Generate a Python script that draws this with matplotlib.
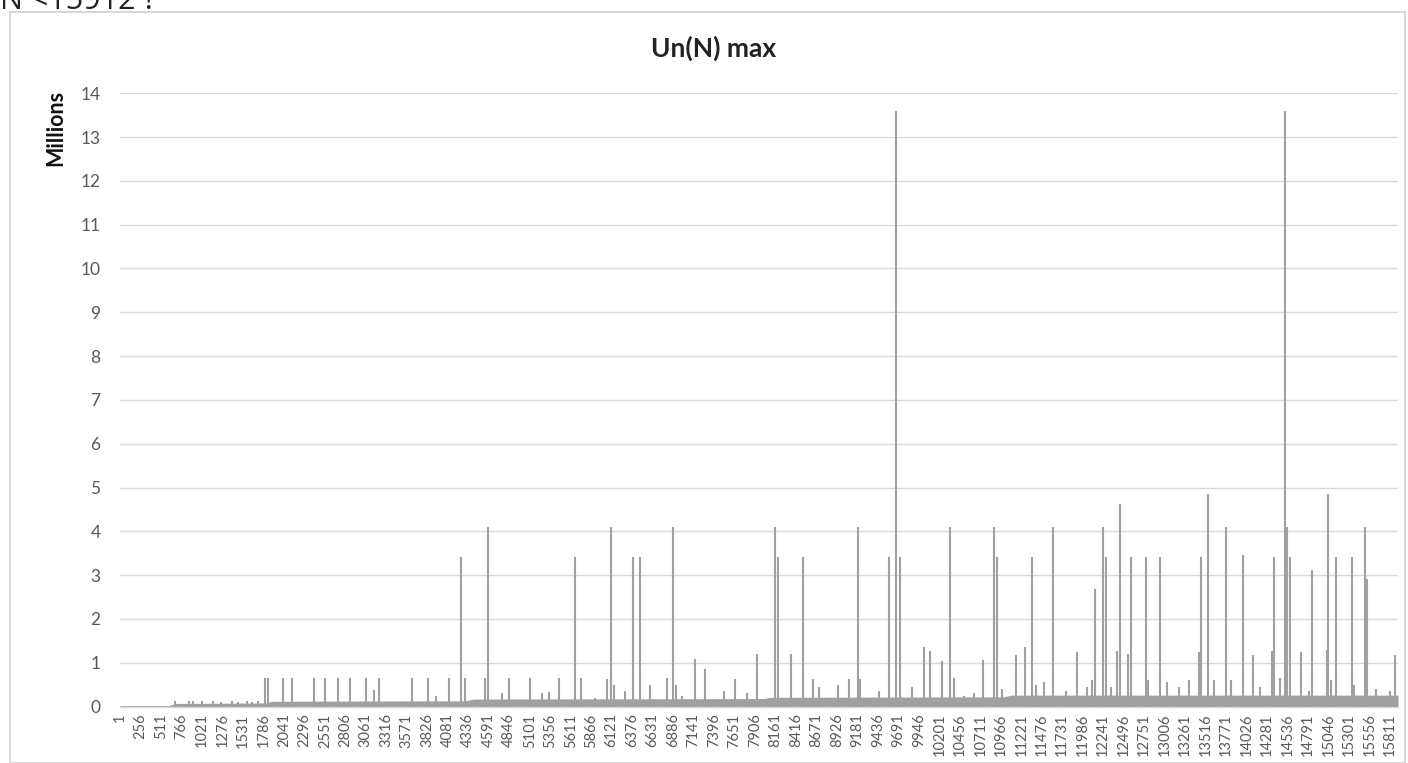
import matplotlib
matplotlib.use("Agg")
import matplotlib.pyplot as plt
from matplotlib.patches import Rectangle

# ---------------- data (values in millions) ----------------
n_max = 15911
tick_labels = list(range(1, 15812, 255))

# visible spikes: position N and height (millions)
spike_n = [686, 861, 914, 1026, 1163, 1259, 1392, 1475, 1579, 1641, 1724,
           1807, 1848, 2035, 2140, 2418, 2555, 2720, 2866, 3065, 3169, 3231,
           3635, 3829, 3937, 4091, 4249, 4299, 4548, 4577, 4756, 4847, 5108,
           5254, 5336, 5461, 5669, 5744, 5918, 6064, 6114, 6146, 6292, 6383,
           6470, 6595, 6811, 6881, 6924, 6998, 7164, 7280, 7525, 7653, 7808,
           7932, 8160, 8189, 8360, 8500, 8625, 8700, 8937, 9074, 9191, 9219,
           9447, 9572, 9664, 9709, 9863, 10008, 10091, 10237, 10340, 10382,
           10506, 10631, 10743, 10880, 10922, 10976, 11150, 11266, 11349,
           11399, 11503, 11620, 11773, 11919, 12043, 12106, 12134, 12243,
           12280, 12334, 12417, 12449, 12554, 12586, 12769, 12795, 12948,
           13040, 13184, 13309, 13434, 13455, 13551, 13621, 13775, 13828,
           13982, 14106, 14190, 14339, 14368, 14439, 14505, 14526, 14567,
           14700, 14804, 14846, 15024, 15045, 15074, 15136, 15336, 15365,
           15501, 15523, 15635, 15813, 15871]
spike_val = [0.12, 0.12, 0.13, 0.12, 0.12, 0.11, 0.12, 0.11, 0.12, 0.11, 0.12,
             0.66, 0.66, 0.66, 0.66, 0.66, 0.66, 0.66, 0.66, 0.66, 0.38, 0.66,
             0.66, 0.66, 0.25, 0.66, 3.42, 0.66, 0.66, 4.10, 0.30, 0.66, 0.66,
             0.30, 0.33, 0.66, 3.42, 0.66, 0.20, 0.62, 4.10, 0.50, 0.35, 3.42,
             3.42, 0.50, 0.66, 4.10, 0.50, 0.25, 1.08, 0.85, 0.35, 0.62, 0.30,
             1.20, 4.10, 3.42, 1.20, 3.42, 0.62, 0.45, 0.50, 0.62, 4.10, 0.62,
             0.35, 3.42, 13.60, 3.42, 0.45, 1.35, 1.26, 1.05, 4.10, 0.66,
             0.25, 0.30, 1.06, 4.10, 3.42, 0.40, 1.18, 1.35, 3.42,
             0.50, 0.55, 4.10, 0.35, 1.25, 0.45, 0.60, 2.68, 4.10,
             3.42, 0.45, 1.27, 4.62, 1.20, 3.42, 3.42, 0.60, 3.42,
             0.55, 0.45, 0.60, 1.25, 3.42, 4.85, 0.60, 4.10, 0.60,
             3.45, 1.18, 0.45, 1.27, 3.42, 0.65, 13.60, 4.10, 3.42,
             1.25, 0.35, 3.12, 1.30, 4.85, 0.60, 3.42, 3.42, 0.50,
             4.10, 2.92, 0.40, 0.35, 1.18]

# dense low-level band (upper edge, millions) read at breakpoints
band_n = [1, 600, 700, 1800, 1900, 4300, 4400, 8000, 8100, 11000, 11100, 15911]
band_top = [0.02, 0.02, 0.07, 0.08, 0.12, 0.13, 0.17, 0.18, 0.21, 0.22, 0.26, 0.26]

# ---------------- figure ----------------
W, H = 1408, 763
fig = plt.figure(figsize=(W / 100, H / 100), dpi=100)
fig.patch.set_facecolor("white")

# outer chart border
fig.patches.append(Rectangle((10 / W, 0), (1405 - 10) / W, 1 - 12 / H,
                             transform=fig.transFigure, fill=False,
                             edgecolor="#d0d0d0", linewidth=1.2))

# partly visible text from the page above the chart
fig.text(0.0, 1 - 9 / H, "N <15912 ?", fontsize=22, family="Open Sans",
         color="#222222", ha="left", va="baseline")

ax = fig.add_axes([120 / W, 1 - 706.5 / H, (1398 - 120) / W, (706.5 - 93.3) / H])
ax.set_facecolor("white")

gray = "#a0a0a0"
ax.fill_between(band_n, 0, band_top, color=gray, linewidth=0, zorder=2)
ax.vlines(spike_n, 0, spike_val, color=gray, linewidth=1.5, zorder=3)

ax.set_xlim(0.5, n_max + 0.5)
ax.set_ylim(0, 14)
ax.set_yticks(range(0, 15))
ax.set_yticklabels([str(v) for v in range(0, 15)])
ax.set_xticks(tick_labels)
ax.set_xticklabels([str(v) for v in tick_labels], rotation=90)

ax.grid(axis="y", color="#d9d9d9", linewidth=1.0, zorder=0)
ax.set_axisbelow(True)
for side in ["top", "right", "left"]:
    ax.spines[side].set_visible(False)
ax.spines["bottom"].set_color("#d9d9d9")
ax.spines["bottom"].set_linewidth(1.0)
ax.tick_params(axis="both", length=0, colors="#595959")
ax.tick_params(axis="y", labelsize=12.5, pad=14)
ax.tick_params(axis="x", labelsize=10.5, pad=5)
for lbl in ax.get_yticklabels() + ax.get_xticklabels():
    lbl.set_family("Lato")

fig.text(56 / W, 1 - 128 / H, "Millions", rotation=90, fontsize=15.5,
         fontweight="bold", family="Lato", color="#111111",
         ha="center", va="center")
fig.text(714 / W, 1 - 48 / H, "Un(N) max", fontsize=19, fontweight="bold",
         family="Lato", color="#222222", ha="center", va="center")

fig.savefig("out.png", dpi=100, facecolor="white")
